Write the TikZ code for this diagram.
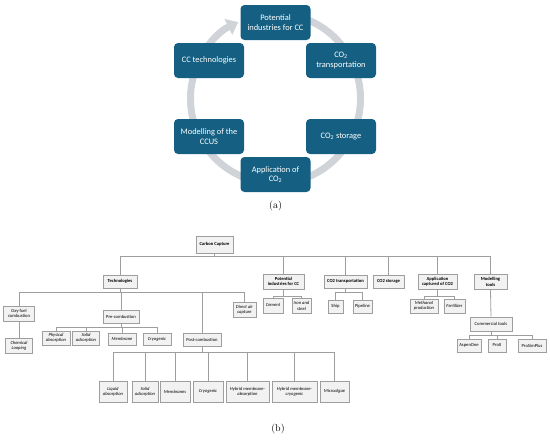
\documentclass[tikz,border=0pt]{standalone}
\usepackage{fontspec}
\newfontfamily\cfont{Carlito}
\usetikzlibrary{arrows.meta}
\definecolor{tealbox}{HTML}{156082}
\definecolor{ringc}{HTML}{D0D4D9}
\definecolor{tfill}{HTML}{F2F2F2}
\definecolor{tline}{HTML}{9E9E9E}
\tikzset{
  cyc/.style={rectangle, rounded corners=4pt, fill=tealbox, text=white,
    minimum width=70pt, minimum height=35pt, align=center, inner sep=1pt,
    font=\cfont\fontsize{8.4}{9.6}\selectfont},
  tb/.style={rectangle, draw=tline, line width=1pt, fill=tfill, align=center,
    inner sep=0.3pt, font=\cfont\fontsize{4.6}{5.3}\selectfont},
  sz/.style 2 args={minimum width=#1pt, minimum height=#2pt},
  lvone/.style={font=\cfont\bfseries\fontsize{4.6}{5.3}\selectfont},
  leaf/.style={font=\cfont\itshape\fontsize{4.6}{5.3}\selectfont},
  conn/.style={draw=tline, line width=0.8pt},
  figlabel/.style={font=\fontsize{10}{11}\selectfont}
}
\begin{document}
\begin{tikzpicture}[x=1pt,y=-1pt]
\useasboundingbox (0,0) rectangle (550,440);
% ---------- (a) cycle ----------
\coordinate (ctr) at (275.5,98.5);
\draw[ringc, line width=7pt, -{Triangle[width=17pt,length=11pt]}]
  (ctr) ++(-80:85) arc[start angle=-80, end angle=244, radius=85];
\node[cyc] (p) at (275.5,22.5) {Potential\\industries for CC};
\node[cyc] (t) at (341,60.5) {CO\textsubscript{2}\\transportation};
\node[cyc] (s) at (341,136.5) {CO\textsubscript{2} storage};
\node[cyc] (a) at (275.5,174.5) {Application of\\CO\textsubscript{2}};
\node[cyc] (m) at (209,136.5) {Modelling of the\\CCUS};
\node[cyc] (c) at (209,60.5) {CC technologies};
\node[figlabel] (la) at (275.5,206) {(a)};
% ---------- (b) tree ----------
\node[tb,lvone,sz={37}{17}] (cc) at (214.5,244.5) {Carbon Capture};
\node[tb,lvone,sz={34}{13}] (tech) at (120,281.5) {Technologies};
\node[tb,lvone,sz={41}{15}] (pot) at (283.5,281.5) {Potential\\industries for CC};
\node[tb,lvone,sz={43}{13}] (trans) at (345.5,281.5) {CO2 transportation};
\node[tb,lvone,sz={31}{13}] (stor) at (388.5,281.5) {CO2 storage};
\node[tb,lvone,sz={39}{15}] (app) at (437.5,282) {Application\\captured of CO2};
\node[tb,lvone,sz={33}{15}] (mod) at (490.5,282) {Modelling\\tools};
% technologies children
\node[tb,sz={31}{15}] (oxy) at (19,313.5) {Oxy-fuel\\combustion};
\node[tb,sz={36}{13}] (pre) at (121,316.5) {Pre-combustion};
\node[tb,sz={38}{13}] (post) at (202,339.5) {Post-combustion};
\node[tb,leaf,sz={23}{15}] (dac) at (244.5,309.5) {Direct air\\capture};
\node[tb,leaf,sz={27}{15}] (chem) at (19,345.5) {Chemical\\Looping};
% pre-combustion children
\node[tb,leaf,sz={28}{14}] (phys) at (56,338) {Physical\\absorption};
\node[tb,leaf,sz={27}{14}] (sol1) at (86,338) {Solid\\adsorption};
\node[tb,leaf,sz={28}{12}] (mem1) at (122,339) {Membrane};
\node[tb,leaf,sz={28}{12}] (cry1) at (157,339) {Cryogenic};
% post-combustion children
\node[tb,leaf,sz={28}{21}] (liq) at (113,391.5) {Liquid\\absorption};
\node[tb,leaf,sz={26}{21}] (sol2) at (145,391.5) {Solid\\adsorption};
\node[tb,leaf,sz={30}{21}] (mem2) at (175,391.5) {Membranes};
\node[tb,leaf,sz={30}{21}] (cry2) at (208,391.5) {Cryogenic};
\node[tb,leaf,sz={43}{21}] (hyba) at (247.5,391.5) {Hybrid membrane-\\absorption};
\node[tb,leaf,sz={45}{21}] (hybc) at (294.5,391.5) {Hybrid membrane-\\cryogenic};
\node[tb,leaf,sz={29}{21}] (micro) at (334.5,391.5) {Microalgae};
% industries
\node[tb,leaf,sz={20}{15}] (cem) at (273,305.5) {Cement};
\node[tb,leaf,sz={19}{15}] (iron) at (301.5,306) {Iron and\\steel};
% transport
\node[tb,sz={15}{13}] (ship) at (335.5,306.5) {Ship};
\node[tb,sz={19}{13}] (pipe) at (362.5,306.5) {Pipeline};
% application
\node[tb,leaf,sz={28}{14}] (meth) at (424,306) {Methanol\\production};
\node[tb,leaf,sz={21}{14}] (fert) at (454.5,306) {Fertilizer};
% modelling
\node[tb,sz={42}{14}] (comm) at (491,324) {Commercial tools};
\node[tb,sz={24}{13}] (aspen) at (469,345.5) {AspenOne};
\node[tb,sz={18}{13}] (pro) at (497,345.5) {ProII};
\node[tb,sz={28}{13}] (prosim) at (532,345.5) {ProSimPlus};
\node[figlabel] (lb) at (278,429) {(b)};
% ---------- connectors ----------
\coordinate (b0) at (214.5,256);
\coordinate (b1) at (120,292);
\coordinate (b2) at (121,327.5);
\coordinate (b3) at (202,352.5);
\coordinate (b4) at (283.5,296);
\coordinate (b5) at (345.5,292);
\coordinate (b6) at (437.5,296);
\coordinate (b7) at (491,335);
\draw[conn] (cc.south) -- (b0);
\foreach \n in {tech,pot,trans,stor,app,mod} \draw[conn] (\n.north) |- (b0);
\draw[conn] (tech.south) -- (b1);
\foreach \n in {oxy,pre,post,dac} \draw[conn] (\n.north) |- (b1);
\draw[conn] (oxy.south) -- (chem.north);
\draw[conn] (pre.south) -- (b2);
\foreach \n in {phys,sol1,mem1,cry1} \draw[conn] (\n.north) |- (b2);
\draw[conn] (post.south) -- (b3);
\foreach \n in {liq,sol2,mem2,cry2,hyba,hybc,micro} \draw[conn] (\n.north) |- (b3);
\draw[conn] (pot.south) -- (b4);
\foreach \n in {cem,iron} \draw[conn] (\n.north) |- (b4);
\draw[conn] (trans.south) -- (b5);
\foreach \n in {ship,pipe} \draw[conn] (\n.north) |- (b5);
\draw[conn] (app.south) -- (b6);
\foreach \n in {meth,fert} \draw[conn] (\n.north) |- (b6);
\draw[conn] (mod.south) -- (comm.north);
\draw[conn] (comm.south) -- (b7);
\foreach \n in {aspen,pro,prosim} \draw[conn] (\n.north) |- (b7);
\end{tikzpicture}
\end{document}
